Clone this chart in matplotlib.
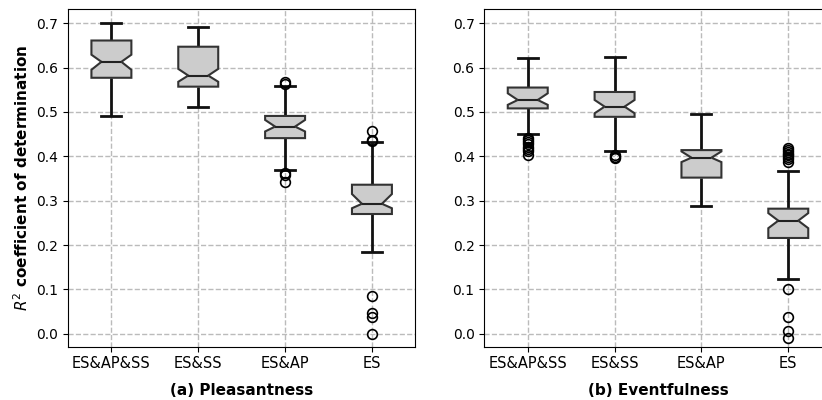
import numpy as np
import matplotlib
matplotlib.use("Agg")
import matplotlib.pyplot as plt

labels = ["ES&AP&SS", "ES&SS", "ES&AP", "ES"]

# (a) Pleasantness
pl_q1 = [0.577, 0.557, 0.441, 0.270]
pl_med = [0.613, 0.582, 0.467, 0.293]
pl_q3 = [0.661, 0.647, 0.491, 0.336]
pl_lo = [0.491, 0.511, 0.369, 0.185]
pl_hi = [0.701, 0.691, 0.559, 0.433]
pl_cilo = [0.595, 0.568, 0.456, 0.283]
pl_cihi = [0.629, 0.597, 0.482, 0.315]
pl_fliers = [[], [],
             [0.567, 0.563, 0.362, 0.358, 0.343],
             [0.458, 0.437, 0.435, 0.086, 0.048, 0.038, 0.0]]

# (b) Eventfulness
ev_q1 = [0.508, 0.489, 0.352, 0.216]
ev_med = [0.527, 0.512, 0.397, 0.255]
ev_q3 = [0.555, 0.545, 0.414, 0.282]
ev_lo = [0.450, 0.411, 0.289, 0.123]
ev_hi = [0.621, 0.623, 0.495, 0.368]
ev_cilo = [0.516, 0.497, 0.387, 0.238]
ev_cihi = [0.542, 0.527, 0.411, 0.272]
ev_fliers = [[0.441, 0.436, 0.432, 0.428, 0.422, 0.416, 0.411, 0.403],
             [0.402, 0.399, 0.397],
             [],
             [0.418, 0.414, 0.410, 0.406, 0.402, 0.398, 0.393, 0.388,
              0.102, 0.039, 0.007, -0.010]]


def make_stats(q1, med, q3, lo, hi, cilo, cihi, fliers):
    stats = []
    for i in range(len(labels)):
        stats.append(dict(label=labels[i], q1=q1[i], med=med[i], q3=q3[i],
                          whislo=lo[i], whishi=hi[i], cilo=cilo[i],
                          cihi=cihi[i], fliers=np.array(fliers[i])))
    return stats


fig = plt.figure(figsize=(8.22, 4.0), dpi=100)
ax1 = fig.add_axes([0.0827, 0.1333, 0.4226, 0.8442])
ax2 = fig.add_axes([0.5892, 0.1333, 0.4226, 0.8442])

boxprops = dict(facecolor="#cccccc", edgecolor="#333333", linewidth=1.5, zorder=3)
whiskerprops = dict(color="#111111", linewidth=2, solid_capstyle="butt")
capprops = dict(color="#111111", linewidth=2)
medianprops = dict(color="#222222", linewidth=1.5, zorder=4)
flierprops = dict(marker="o", markerfacecolor="none", markeredgecolor="black",
                  markersize=7, markeredgewidth=1.2)

panels = [
    (ax1, make_stats(pl_q1, pl_med, pl_q3, pl_lo, pl_hi, pl_cilo, pl_cihi, pl_fliers),
     "(a) Pleasantness"),
    (ax2, make_stats(ev_q1, ev_med, ev_q3, ev_lo, ev_hi, ev_cilo, ev_cihi, ev_fliers),
     "(b) Eventfulness"),
]

for ax, stats, title in panels:
    ax.bxp(stats, shownotches=True, patch_artist=True, widths=0.46,
           boxprops=boxprops, whiskerprops=whiskerprops, capprops=capprops,
           medianprops=medianprops, flierprops=flierprops)
    ax.set_ylim(-0.029, 0.732)
    ax.set_xlim(0.5, 4.5)
    ax.set_yticks([0.0, 0.1, 0.2, 0.3, 0.4, 0.5, 0.6, 0.7])
    ax.grid(True, linestyle="--", color="#bbbbbb", linewidth=1)
    ax.set_axisbelow(True)
    ax.tick_params(axis="x", labelsize=10.5)
    ax.tick_params(axis="y", labelsize=10)
    ax.set_xlabel(title, fontsize=11, fontweight="bold", labelpad=8)

ax1.set_ylabel("$R^2$ coefficient of determination", fontsize=11, fontweight="bold")

fig.savefig("out.png", dpi=100)
